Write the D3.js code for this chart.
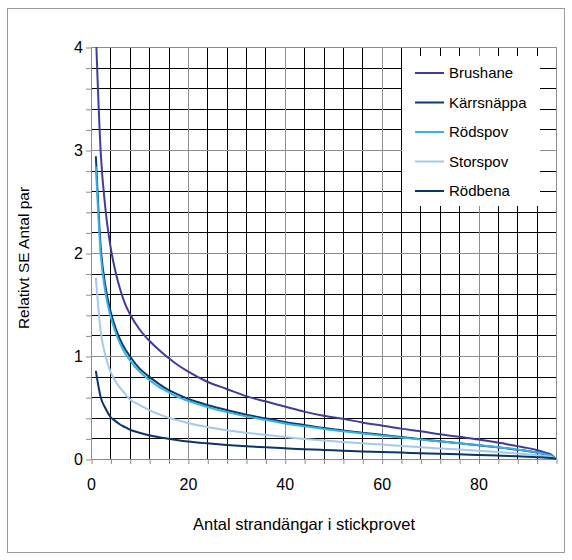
<!DOCTYPE html>
<html>
<head>
<meta charset="utf-8">
<script src="https://cdnjs.cloudflare.com/ajax/libs/d3/7.8.5/d3.min.js"></script>
<style>
  html, body { margin: 0; padding: 0; background: #fff; }
  svg { display: block; font-family: "Liberation Sans", Arial, sans-serif; }
</style>
</head>
<body>
<svg id="chart" width="572" height="560"></svg>
<script>
// Number of sampled sites (x) and relative SE of pair counts for each species
const sampleSizes = [1,2,3,4,5,6,7,8,10,12,14,16,18,20,24,28,32,36,40,44,48,52,56,60,64,68,72,76,80,84,88,90,92,94,95,96];
const brushane   = [4.15,2.98,2.42,2.07,1.83,1.65,1.51,1.41,1.26,1.15,1.06,0.98,0.91,0.85,0.75,0.68,0.61,0.56,0.51,0.46,0.42,0.39,0.355,0.325,0.295,0.27,0.24,0.215,0.19,0.16,0.125,0.108,0.088,0.06,0.042,0];
const karrsnappa = [2.94,2.06,1.67,1.44,1.28,1.16,1.07,1.00,0.88,0.80,0.73,0.67,0.625,0.585,0.525,0.475,0.43,0.395,0.36,0.33,0.30,0.277,0.255,0.235,0.213,0.193,0.173,0.153,0.133,0.113,0.09,0.078,0.063,0.044,0.031,0];
const rodspov    = [2.84,1.99,1.61,1.39,1.24,1.12,1.03,0.96,0.85,0.77,0.70,0.65,0.60,0.565,0.505,0.455,0.415,0.38,0.345,0.318,0.292,0.27,0.248,0.228,0.208,0.19,0.171,0.152,0.135,0.115,0.092,0.079,0.064,0.045,0.032,0];
const storspov   = [1.76,1.24,1.00,0.85,0.76,0.69,0.635,0.58,0.525,0.475,0.435,0.40,0.375,0.35,0.31,0.28,0.255,0.235,0.213,0.195,0.18,0.165,0.152,0.14,0.127,0.115,0.103,0.092,0.08,0.068,0.054,0.046,0.037,0.026,0.019,0];
const rodbena    = [0.855,0.60,0.49,0.41,0.37,0.335,0.31,0.285,0.255,0.23,0.212,0.196,0.182,0.17,0.152,0.137,0.124,0.113,0.104,0.095,0.088,0.081,0.074,0.068,0.062,0.056,0.05,0.045,0.039,0.033,0.027,0.023,0.018,0.013,0.009,0];

const seriesNames  = ["Brushane", "Kärrsnäppa", "Rödspov", "Storspov", "Rödbena"];
const seriesValues = [brushane, karrsnappa, rodspov, storspov, rodbena];
const seriesColors = ["#3f3d98", "#0d3a6c", "#35b3e6", "#a3c9ec", "#0a3568"];

const xTicks = d3.range(0, 97, 4);
const xLabels = [0, 20, 40, 60, 80];
const yTicks = d3.range(0, 4.001, 0.2).map(v => +v.toFixed(1));
const yLabels = [0, 1, 2, 3, 4];

const xTitle = "Antal strandängar i stickprovet";
const yTitle = "Relativt SE Antal par";

const svg = d3.select("#chart");
const plotL = 91, plotR = 556, plotT = 47, plotB = 459;

const x = d3.scaleLinear().domain([0, 96]).range([plotL, plotR]);
const y = d3.scaleLinear().domain([0, 4]).range([plotB, plotT]);
const px = v => Math.round(v) + 0.5;

// outer frame
svg.append("rect")
  .attr("x", 7.5).attr("y", 8.5).attr("width", 557).attr("height", 544)
  .attr("fill", "#fff").attr("stroke", "#9a9a9a").attr("stroke-width", 1);

// grid: minor lines black, major lines grey
const grid = svg.append("g");
const isMajorX = v => v % 20 === 0 || v === 96;
const isMajorY = v => Math.abs(v - Math.round(v)) < 1e-6;

grid.selectAll("line.vx").data(xTicks.filter(v => !isMajorX(v))).join("line")
  .attr("x1", d => px(x(d))).attr("x2", d => px(x(d)))
  .attr("y1", plotT).attr("y2", plotB)
  .attr("stroke", "#000").attr("stroke-width", 1);
grid.selectAll("line.hy").data(yTicks.filter(v => !isMajorY(v))).join("line")
  .attr("y1", d => px(y(d))).attr("y2", d => px(y(d)))
  .attr("x1", plotL).attr("x2", plotR)
  .attr("stroke", "#000").attr("stroke-width", 1);
grid.selectAll("line.mx").data(xTicks.filter(isMajorX)).join("line")
  .attr("x1", d => px(x(d))).attr("x2", d => px(x(d)))
  .attr("y1", plotT).attr("y2", plotB)
  .attr("stroke", "#8c8c8c").attr("stroke-width", 1);
grid.selectAll("line.my").data(yTicks.filter(isMajorY)).join("line")
  .attr("y1", d => px(y(d))).attr("y2", d => px(y(d)))
  .attr("x1", plotL).attr("x2", plotR)
  .attr("stroke", "#8c8c8c").attr("stroke-width", 1);

// axes
const xAxis = d3.axisBottom(x).tickValues(xTicks).tickSize(5).tickSizeOuter(0)
  .tickFormat(d => xLabels.includes(d) ? d : "");
const yAxis = d3.axisLeft(y).tickValues(yTicks).tickSize(5).tickSizeOuter(0)
  .tickFormat(d => yLabels.includes(d) ? d : "");

const gx = svg.append("g").attr("transform", `translate(0,${px(plotB) - 0.5})`).call(xAxis);
const gy = svg.append("g").attr("transform", `translate(${px(plotL) - 0.5},0)`).call(yAxis);
[gx, gy].forEach(g => {
  g.select(".domain").attr("stroke", "#8c8c8c");
  g.selectAll(".tick line").attr("stroke", "#8c8c8c");
  g.selectAll(".tick text").attr("fill", "#000")
    .style("font-family", "'Liberation Sans', Arial, sans-serif").style("font-size", "16px");
});
gx.selectAll(".tick line").attr("transform", "translate(0.5,0)");
gx.selectAll(".tick text").attr("dy", "0.71em").attr("y", 20);
gy.selectAll(".tick line").attr("transform", "translate(0,0.5)");
gy.selectAll(".tick text").attr("x", -8);

// series lines
svg.append("clipPath").attr("id", "plotclip")
  .append("rect").attr("x", plotL).attr("y", plotT).attr("width", plotR - plotL + 1).attr("height", plotB - plotT + 1);

const line = d3.line()
  .x((d, i) => x(sampleSizes[i]))
  .y(d => y(d))
  .curve(d3.curveMonotoneX);

svg.append("g").attr("clip-path", "url(#plotclip)")
  .selectAll("path").data(seriesValues).join("path")
  .attr("d", d => line(d))
  .attr("fill", "none")
  .attr("stroke", (d, i) => seriesColors[i])
  .attr("stroke-width", 2)
  .attr("stroke-linejoin", "round");

// legend
const lg = svg.append("g");
lg.append("rect").attr("x", 402).attr("y", 56).attr("width", 138).attr("height", 150).attr("fill", "#fff");
const rowY = i => 73 + i * 29.5;
seriesNames.forEach((name, i) => {
  lg.append("line")
    .attr("x1", 415).attr("x2", 444).attr("y1", rowY(i)).attr("y2", rowY(i))
    .attr("stroke", seriesColors[i]).attr("stroke-width", 2);
  lg.append("text")
    .attr("x", 449).attr("y", rowY(i)).attr("dy", "0.36em")
    .style("font-size", "15px").attr("fill", "#000")
    .text(name);
});

// axis titles
svg.append("text")
  .attr("x", 304).attr("y", 530)
  .attr("text-anchor", "middle").style("font-size", "16.5px")
  .text(xTitle);
svg.append("text")
  .attr("transform", "translate(29,258) rotate(-90)")
  .attr("text-anchor", "middle").style("font-size", "15.5px")
  .text(yTitle);
</script>
</body>
</html>
